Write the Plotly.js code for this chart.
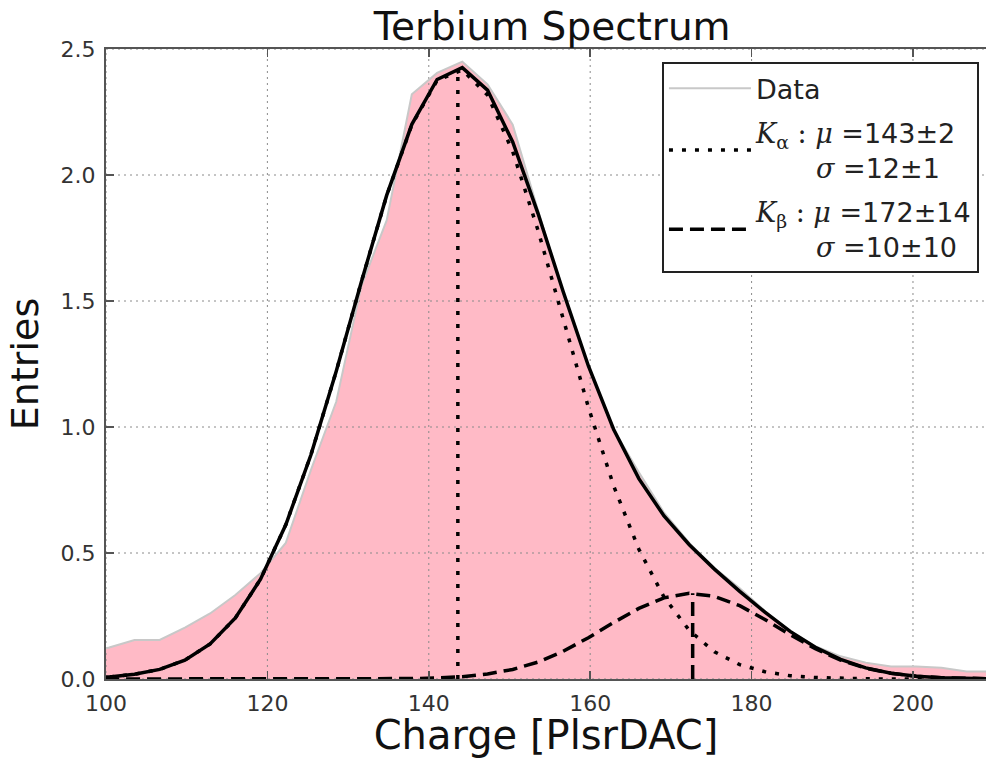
<!DOCTYPE html>
<html>
<head>
<meta charset="utf-8">
<script src="https://cdn.plot.ly/plotly-3.0.1.min.js"></script>
<style>html,body{margin:0;padding:0;background:#fff;}#chart{width:986px;height:758px;}</style>
</head>
<body>
<div id="chart"></div>
<script>
// ---- data ----
const chargeBins = [97.28, 100.4, 103.53, 106.65, 109.78, 112.9, 116.03, 119.15, 122.28, 125.4, 128.53,
  131.65, 134.78, 137.9, 141.03, 144.15, 147.28, 150.4, 153.53, 156.65, 159.78, 162.9, 166.03, 169.15,
  172.28, 175.4, 178.53, 181.65, 184.78, 187.9, 191.03, 194.15, 197.28, 200.4, 203.53, 206.65, 209.78];
const dataEntries = [0.10, 0.125, 0.155, 0.155, 0.204, 0.26, 0.333, 0.42, 0.54, 0.83, 1.10,
  1.56, 1.82, 2.32, 2.405, 2.45, 2.36, 2.20, 1.86, 1.53, 1.24, 0.99, 0.82, 0.66,
  0.54, 0.44, 0.36, 0.27, 0.19, 0.13, 0.09, 0.065, 0.05, 0.05, 0.045, 0.03, 0.03];
const fitTotal = [0.004, 0.008, 0.019, 0.038, 0.075, 0.139, 0.242, 0.396, 0.612, 0.890, 1.221,
  1.577, 1.919, 2.201, 2.379, 2.426, 2.337, 2.131, 1.848, 1.538, 1.242, 0.991, 0.795, 0.647,
  0.533, 0.436, 0.348, 0.265, 0.189, 0.126, 0.078, 0.044, 0.023, 0.011, 0.005, 0.002, 0.001];
const fitKalpha = [0.004, 0.008, 0.019, 0.038, 0.075, 0.139, 0.242, 0.396, 0.612, 0.890, 1.221,
  1.577, 1.918, 2.199, 2.375, 2.417, 2.317, 2.093, 1.781, 1.428, 1.078, 0.767, 0.515, 0.325,
  0.193, 0.108, 0.057, 0.029, 0.013, 0.006, 0.0025, 0.001, 0, 0, 0, 0, 0];
const fitKbeta = [0, 0, 0, 0, 0, 0, 0, 0, 0, 0, 0,
  0.0002, 0.0006, 0.0016, 0.004, 0.009, 0.020, 0.038, 0.067, 0.110, 0.164, 0.224, 0.280, 0.322,
  0.340, 0.328, 0.291, 0.236, 0.176, 0.120, 0.075, 0.043, 0.023, 0.011, 0.005, 0.002, 0.001];
const kalphaMu = 143.6, kalphaPeak = 2.42;
const kbetaMu = 172.7, kbetaPeak = 0.34;
const xTicks = [100, 120, 140, 160, 180, 200];
const yTicks = [0, 0.5, 1.0, 1.5, 2.0, 2.5];
const yTickText = ['0.0', '0.5', '1.0', '1.5', '2.0', '2.5'];
const xRange = [100, 209.05];
const yRange = [0, 2.5];
const labelKalpha = '<span style="font-family:DejaVu Serif"><i>K</i><sub>α</sub> : <i>μ</i> =</span>143±2<br>\u00a0\u00a0\u00a0\u00a0\u00a0\u00a0\u00a0<span style="font-family:DejaVu Serif"><i>σ</i> =</span>12±1';
const labelKbeta = '<span style="font-family:DejaVu Serif"><i>K</i><sub>β</sub> : <i>μ</i> =</span>172±14<br>\u00a0\u00a0\u00a0\u00a0\u00a0\u00a0\u00a0<span style="font-family:DejaVu Serif"><i>σ</i> =</span>10±10';

// ---- grid lines (drawn over the fill, under the lines, like matplotlib) ----
const gx = [], gy = [];
xTicks.forEach(v => { gx.push(v, v, null); gy.push(yRange[0], yRange[1], null); });
yTicks.forEach(v => { gx.push(xRange[0], xRange[1], null); gy.push(v, v, null); });

const traces = [
  {x: chargeBins, y: dataEntries, type: 'scatter', mode: 'lines', fill: 'tozeroy',
   fillcolor: '#ffbac6', line: {width: 0, color: '#ffbac6'}, showlegend: false, hoverinfo: 'skip'},
  {x: gx, y: gy, type: 'scatter', mode: 'lines', line: {color: '#8a8a8a', width: 1, dash: '2px,4px'},
   showlegend: false, hoverinfo: 'skip', connectgaps: false},
  {x: chargeBins, y: dataEntries, type: 'scatter', mode: 'lines', name: 'Data',
   line: {color: '#c8c8c8', width: 2}, legendrank: 1, legendgroup: 'g1'},
  {x: chargeBins, y: fitTotal, type: 'scatter', mode: 'lines', name: 'fit',
   line: {color: '#000', width: 3.5}, showlegend: false},
  {x: chargeBins, y: fitKalpha, type: 'scatter', mode: 'lines', name: labelKalpha,
   line: {color: '#000', width: 3.5, dash: '4px,9px'}, legendrank: 2, legendgroup: 'g2'},
  {x: chargeBins, y: fitKbeta, type: 'scatter', mode: 'lines', name: labelKbeta,
   line: {color: '#000', width: 3.5, dash: '14px,7px'}, legendrank: 3, legendgroup: 'g3'},
  {x: [kalphaMu, kalphaMu], y: [0, kalphaPeak], type: 'scatter', mode: 'lines',
   line: {color: '#000', width: 3.5, dash: '4px,9px'}, showlegend: false},
  {x: [kbetaMu, kbetaMu], y: [0, kbetaPeak], type: 'scatter', mode: 'lines',
   line: {color: '#000', width: 3.5, dash: '14px,7px'}, showlegend: false}
];

const font = 'DejaVu Sans, Liberation Sans, sans-serif';
const layout = {
  width: 986, height: 758,
  margin: {l: 106, r: 0, t: 49, b: 79, pad: 0},
  paper_bgcolor: '#fff', plot_bgcolor: '#fff',
  font: {family: font, color: '#222'},
  showlegend: true,
  title: {text: 'Terbium Spectrum', font: {family: font, size: 39, color: '#111'},
          xref: 'paper', x: 0.507, xanchor: 'center', yref: 'container', y: 0.965, yanchor: 'middle'},
  xaxis: {
    range: xRange, tickvals: xTicks, ticktext: xTicks.map(String),
    showgrid: false, zeroline: false,
    showline: true, linecolor: '#555', linewidth: 2, mirror: 'ticks',
    ticks: 'inside', ticklen: 8, tickwidth: 1.5, tickcolor: '#555',
    tickfont: {family: font, size: 22, color: '#333'}, ticklabelstandoff: 4,
    title: {text: 'Charge [PlsrDAC]', font: {family: font, size: 40, color: '#111'}, standoff: 10}
  },
  yaxis: {
    range: yRange, tickvals: yTicks, ticktext: yTickText,
    showgrid: false, zeroline: false,
    showline: true, linecolor: '#555', linewidth: 2, mirror: false,
    ticks: 'inside', ticklen: 8, tickwidth: 1.5, tickcolor: '#555',
    tickfont: {family: font, size: 22, color: '#333'}, ticklabelstandoff: 4,
    title: {text: 'Entries', font: {family: font, size: 38, color: '#111'}, standoff: 10}
  },
  legend: {
    x: 0.992, xanchor: 'right', y: 0.979, yanchor: 'top',
    bgcolor: '#fff', bordercolor: '#222', borderwidth: 2,
    font: {family: font, size: 27, color: '#222'},
    traceorder: 'grouped', tracegroupgap: 6, itemwidth: 82
  }
};

Plotly.newPlot('chart', traces, layout, {displayModeBar: false, staticPlot: true});
</script>
</body>
</html>
